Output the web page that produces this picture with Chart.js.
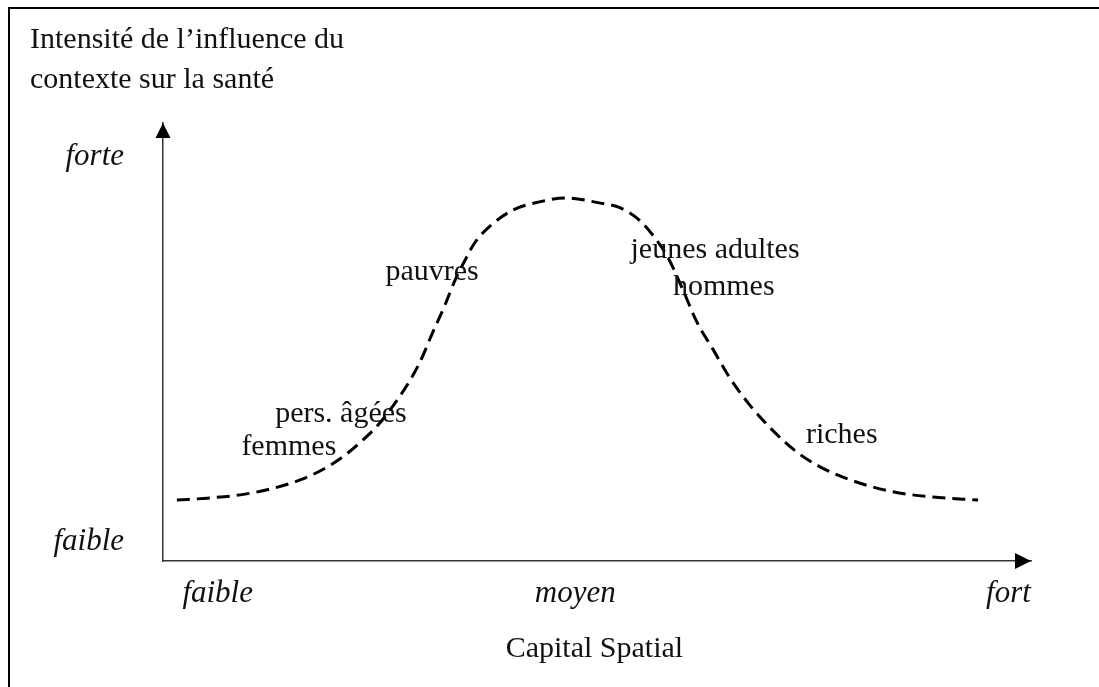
<!DOCTYPE html>
<html lang="fr">
<head>
<meta charset="utf-8">
<title>Capital spatial et santé</title>
<script src="https://cdn.jsdelivr.net/npm/chart.js@4.4.1/dist/chart.umd.min.js"></script>
<style>
  html, body { margin: 0; padding: 0; background: #fff; }
  #wrap { position: relative; width: 1099px; height: 687px; overflow: hidden; }
  #frame {
    position: absolute; left: 8px; top: 7px;
    width: 1200px; height: 800px;
    border-top: 2px solid #000; border-left: 2px solid #000;
  }
  #chart { position: absolute; left: 0; top: 0; }
</style>
</head>
<body>
<div id="wrap">
  <div id="frame"></div>
  <canvas id="chart" width="1099" height="687"></canvas>
</div>
<script>
// Capital spatial (0-100) against strength of the context's influence (0-100)
const capitalX = [1.6, 5.4, 8.9, 12.3, 15.8, 18.7, 21.0, 22.9, 24.8, 26.5, 28.2, 29.6, 31.1, 32.5, 33.6, 34.8,
                  35.9, 37.7, 40.3, 43.4, 46.3, 50.4, 52.7, 55.0, 56.7, 58.2, 59.9, 61.5, 63.4, 65.3, 67.6,
                  70.3, 73.0, 75.7, 79.5, 84.1, 88.7, 93.9];
const influenceY = [13.9, 14.4, 15.1, 16.4, 18.5, 21.2, 24.2, 27.4, 31.1, 35.4, 40.4, 45.4, 52.3, 58.5, 63.9, 68.7,
                    72.6, 76.5, 80.1, 82.0, 82.9, 81.7, 80.6, 77.6, 73.7, 69.2, 61.9, 54.6, 48.2, 41.8, 35.6,
                    29.7, 24.9, 21.5, 18.3, 15.8, 14.6, 13.9];

// axis wording
const xTickLabels = ['faible', 'moyen', 'fort'];
const xTickValues = [6.3, 47.5, 97.4];
const yTickLabels = ['faible', 'forte'];
const yTickValues = [2.5, 90.4];
const xTitle = 'Capital Spatial';
const yTitle = ['Intensité de l’influence du', 'contexte sur la santé'];

// groups placed along the curve (centre x, baseline y)
const groupLabels = ['pers. âgées', 'femmes', 'pauvres', 'jeunes adultes', 'hommes', 'riches'];
const groupX = [20.5, 14.5, 31.0, 63.6, 64.6, 78.2];
const groupY = [31.7, 24.2, 64.2, 69.2, 60.7, 26.9];

const SERIF = '"Liberation Serif", "DejaVu Serif", serif';

const points = capitalX.map((x, i) => ({ x: x, y: influenceY[i] }));

// arrowheads, axis wording and group names
const schemaPlugin = {
    id: 'schema',
    afterDraw(chart) {
        const ctx = chart.ctx;
        const xs = chart.scales.x;
        const ys = chart.scales.y;
        const area = chart.chartArea;

        ctx.save();
        ctx.fillStyle = '#000';

        // arrow at the top of the y axis
        ctx.beginPath();
        ctx.moveTo(area.left, area.top);
        ctx.lineTo(area.left - 7.5, area.top + 15);
        ctx.lineTo(area.left + 7.5, area.top + 15);
        ctx.closePath();
        ctx.fill();

        // arrow at the end of the x axis
        ctx.beginPath();
        ctx.moveTo(area.right, area.bottom);
        ctx.lineTo(area.right - 16, area.bottom - 8);
        ctx.lineTo(area.right - 16, area.bottom + 8);
        ctx.closePath();
        ctx.fill();

        ctx.fillStyle = '#111';
        ctx.textBaseline = 'alphabetic';

        // italic level words
        ctx.font = 'italic 31px ' + SERIF;
        ctx.textAlign = 'center';
        xTickLabels.forEach((t, i) => {
            ctx.fillText(t, xs.getPixelForValue(xTickValues[i]), area.bottom + 41);
        });
        ctx.textAlign = 'right';
        yTickLabels.forEach((t, i) => {
            ctx.fillText(t, area.left - 39, ys.getPixelForValue(yTickValues[i]));
        });

        // titles
        ctx.font = '30px ' + SERIF;
        ctx.textAlign = 'center';
        ctx.fillText(xTitle, xs.getPixelForValue(49.7), area.bottom + 96);
        ctx.textAlign = 'left';
        ctx.fillText(yTitle[0], 30, 48);
        ctx.fillText(yTitle[1], 30, 88);

        // group names
        ctx.textAlign = 'center';
        groupLabels.forEach((t, i) => {
            ctx.fillText(t, xs.getPixelForValue(groupX[i]), ys.getPixelForValue(groupY[i]));
        });
        ctx.restore();
    }
};

new Chart(document.getElementById('chart'), {
    type: 'line',
    data: {
        datasets: [{
            data: points,
            borderColor: '#000',
            borderWidth: 3,
            borderDash: [13, 7],
            borderCapStyle: 'butt',
            cubicInterpolationMode: 'monotone',
            pointRadius: 0,
            fill: false
        }]
    },
    options: {
        responsive: false,
        animation: false,
        layout: { padding: { left: 163, right: 68, top: 123, bottom: 126 } },
        plugins: { legend: { display: false }, tooltip: { enabled: false } },
        scales: {
            x: {
                type: 'linear', min: 0, max: 100,
                grid: { display: false, drawTicks: false },
                ticks: { display: false },
                border: { display: true, color: '#333', width: 1.5 }
            },
            y: {
                type: 'linear', min: 0, max: 100,
                grid: { display: false, drawTicks: false },
                ticks: { display: false },
                border: { display: true, color: '#333', width: 1.5 }
            }
        }
    },
    plugins: [schemaPlugin]
});
</script>
</body>
</html>
